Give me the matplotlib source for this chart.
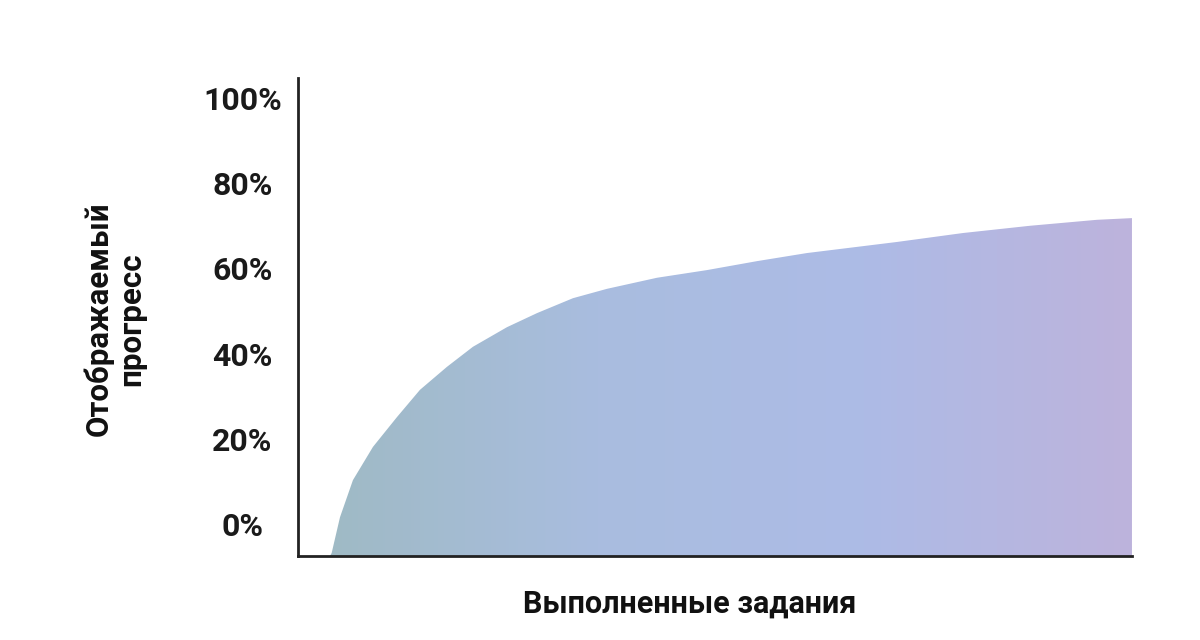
import numpy as np
import matplotlib.pyplot as plt
from matplotlib.colors import LinearSegmentedColormap

plt.rcParams['font.family'] = ['Roboto', 'DejaVu Sans']

# completed tasks (0..100) vs displayed progress (%)
tasks = [3.84, 4.04, 5.04, 6.59, 8.99, 11.87, 14.63, 17.87, 20.98, 25.06, 28.66,
         32.97, 37.05, 43.05, 49.04, 55.04, 61.03, 71.82, 79.74, 87.77, 95.80, 100.0]
progress = [-7.5, -6.8, 1.6, 10.3, 18.1, 25.1, 31.5, 36.9, 41.6, 46.2, 49.5,
            53.0, 55.2, 57.8, 59.6, 61.7, 63.6, 66.2, 68.3, 70.0, 71.4, 71.8]

y_ticks = [0, 20, 40, 60, 80, 100]
y_labels = ["0%", "20%", "40%", "60%", "80%", "100%"]

grad_colors = ["#9fbac5", "#a9bddf", "#adbbe6", "#bdb3dc"]

fig = plt.figure(figsize=(12, 6.4), dpi=100)
ax = fig.add_axes([0.2483, 0.13125, 0.695, 0.747])

ymin, ymax = -7.5, 104.7
ax.set_xlim(0, 100)
ax.set_ylim(ymin, ymax)

poly = ax.fill_between(tasks, progress, ymin, color="none", lw=0)
cmap = LinearSegmentedColormap.from_list("prog", grad_colors)
grad = np.linspace(0, 1, 512).reshape(1, -1)
im = ax.imshow(grad, cmap=cmap, extent=[tasks[0], 100, ymin, ymax],
               aspect="auto", interpolation="bicubic", zorder=1)
im.set_clip_path(poly.get_paths()[0], transform=ax.transData)

for s in ["top", "right"]:
    ax.spines[s].set_visible(False)
for s in ["left", "bottom"]:
    ax.spines[s].set_color("#222222")
    ax.spines[s].set_linewidth(2)
    ax.spines[s].set_zorder(3)

ax.set_xticks([])
ax.set_yticks(y_ticks)
ax.set_yticklabels(y_labels, fontsize=23, fontweight="bold", color="#1a1a1a")
ax.tick_params(axis="y", length=0, pad=40)
for lab in ax.get_yticklabels():
    lab.set_horizontalalignment("center")

fig.text(690 / 1200, 1 - 604 / 640, "Выполненные задания", ha="center", va="center",
         fontsize=22, fontweight="bold", color="#111111")
fig.text(115 / 1200, 1 - 319 / 640, "Отображаемый\nпрогресс", ha="center", va="center",
         rotation=90, fontsize=22.5, fontweight="bold", color="#111111",
         multialignment="center", linespacing=1.1)

fig.savefig("out.png", dpi=100, facecolor="white")
